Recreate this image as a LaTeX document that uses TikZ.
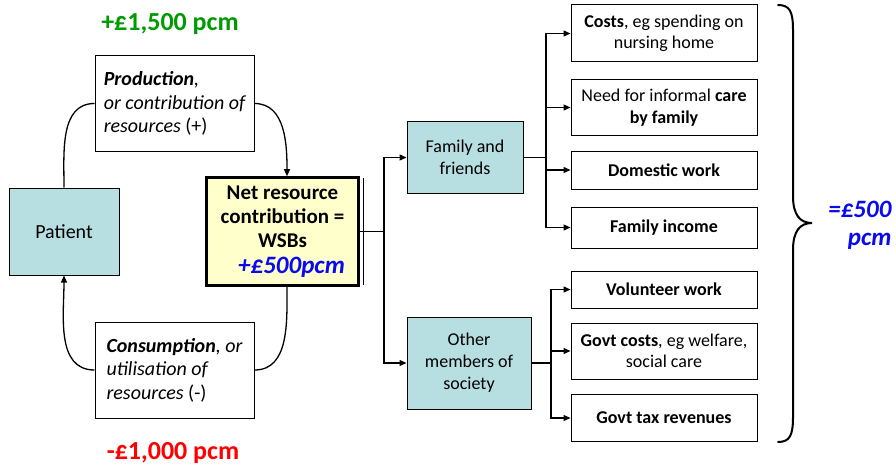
\documentclass[tikz,border=0pt]{standalone}
\usepackage{fontspec}
\setmainfont{Carlito}
\usetikzlibrary{arrows.meta}
\definecolor{pblue}{RGB}{183,222,225}
\definecolor{pyellow}{RGB}{255,255,204}
\definecolor{mygreen}{RGB}{0,155,0}
\definecolor{myred}{RGB}{255,0,0}
\definecolor{myblue}{RGB}{10,10,240}
\tikzset{
  box/.style={draw, line width=1pt, inner sep=2pt, align=center},
  bluebox/.style={box, fill=pblue},
  rbox/.style={box, minimum width=186pt, font=\fontsize{18}{21.5}\selectfont},
  conn/.style={line width=1.3pt},
  arr/.style={conn, -{Triangle[length=7pt,width=6pt]}},
  big/.style={font=\fontsize{26}{30}\selectfont\bfseries}
}
\begin{document}
\begin{tikzpicture}[x=1pt,y=-1pt]
\useasboundingbox (0,0) rectangle (896,468);
% left side
\node[big, text=mygreen] (plus) at (170,24) {+£1,500 pcm};
\node[big, text=myred] (minus) at (173,453) {-£1,000 pcm};
\node[box, minimum width=159pt, minimum height=95pt, align=left,
      font=\fontsize{20}{23.5}\selectfont\itshape] (prod) at (174.5,103.5)
  {\textbf{Production},\\or contribution of\\resources \textup{(+)}};
\node[box, minimum width=159pt, minimum height=96pt, align=left,
      font=\fontsize{20}{23.5}\selectfont\itshape] (cons) at (174.5,370)
  {\textbf{Consumption}, or\\utilisation of\\resources \textup{(-)}};
\node[bluebox, minimum width=110pt, minimum height=87pt,
      font=\fontsize{20}{24}\selectfont] (pat) at (64,231.5) {Patient};
\node[box, fill=pyellow, line width=2.6pt, minimum width=152pt, minimum height=108pt,
      font=\fontsize{21}{24}\selectfont\bfseries] (net) at (282.5,231.5)
  {Net resource\\contribution =\\WSBs\\[2pt]
   \hspace*{18pt}{\fontsize{25}{26}\selectfont\itshape\color{myblue}+£500pcm}};
\draw[line width=0.7pt] (363,178) -- (363,285);
% curves
\draw[conn] (pat.north) to[out=90,in=180] (prod.west);
\draw[arr] (prod.east) to[out=0,in=90] ([xshift=4.5pt]net.north);
\draw[conn] ([xshift=4.5pt]net.south) to[out=-90,in=0] (cons.east);
\draw[arr] (cons.west) to[out=180,in=-90] (pat.south);
% middle
\node[bluebox, minimum width=116pt, minimum height=71pt,
      font=\fontsize{18}{22}\selectfont] (fam) at (465,157.5) {Family and\\friends};
\node[bluebox, minimum width=124pt, minimum height=92pt,
      font=\fontsize{18}{22}\selectfont] (oth) at (469,363) {Other\\members of\\society};
\coordinate (j1) at (384,231.5);
\draw[line width=1.8pt] (net.east) -- (j1);
\draw[arr] (j1) |- (fam.west);
\draw[arr] (j1) |- (oth.west);
% right boxes
\node[rbox, minimum height=57pt] (r1) at (664,33.5) {\textbf{Costs}, eg spending on\\nursing home};
\node[rbox, minimum height=56pt] (r2) at (664,107.5) {Need for informal \textbf{care}\\\textbf{by family}};
\node[rbox, minimum height=38pt] (r3) at (664,170) {\textbf{Domestic work}};
\node[rbox, minimum height=41pt] (r4) at (664,227.5) {\textbf{Family income}};
\node[rbox, minimum height=37pt] (r5) at (664,289.5) {\textbf{Volunteer work}};
\node[rbox, minimum height=56pt] (r6) at (664,351) {\textbf{Govt costs}, eg welfare,\\social care};
\node[rbox, minimum height=47pt] (r7) at (664,418) {\textbf{Govt tax revenues}};
\coordinate (j2) at (546,157.5);
\coordinate (j3) at (551,363);
\draw[line width=1.8pt] (fam.east) -- (j2);
\draw[line width=1.8pt] (oth.east) -- (j3);
\foreach \r in {r1,r2,r3,r4} \draw[arr] (j2) |- (\r.west);
\foreach \r in {r5,r6,r7} \draw[arr] (j3) |- (\r.west);
% brace
\draw[line width=2pt, line cap=round]
  (778,5) .. controls (790,5) and (793,12) .. (793,30) -- (793,196)
  .. controls (793,215) and (800,223) .. (812,223)
  .. controls (800,223) and (793,231) .. (793,250) -- (793,417)
  .. controls (793,435) and (790,442) .. (778,442);
\node[anchor=east, align=right, text=myblue,
      font=\fontsize{25}{28}\selectfont\bfseries\itshape] (tot) at (895,225) {=£500\\pcm};
\end{tikzpicture}
\end{document}
